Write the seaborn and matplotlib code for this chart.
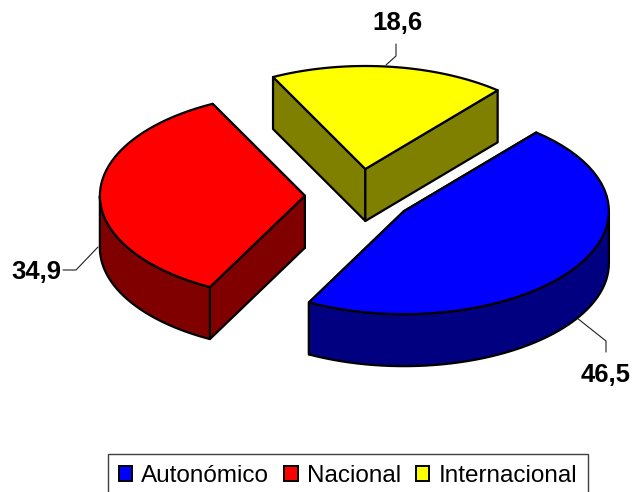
import numpy as np
import matplotlib
matplotlib.use('Agg')
import matplotlib.pyplot as plt
from matplotlib.patches import Polygon, Patch
import seaborn as sns

# valores del grafico
categorias = ['Autonómico', 'Nacional', 'Internacional']
valores = [46.5, 34.9, 18.6]
etiquetas = ['46,5', '34,9', '18,6']
colores = ['#0000FF', '#FF0000', '#FFFF00']
colores_lado = ['#000080', '#800000', '#808000']

sns.set_theme(style='white')
plt.rcParams['font.family'] = ['Liberation Sans', 'DejaVu Sans']

# geometria de la tarta en pixeles
cx, cy = 359, 196
rx, ry = 205, 103
fondo = 52
explode = 0.264
inicio = 49.8
lw = 1.6


def arco(c, a0, a1, n=50):
    t = np.radians(np.linspace(a0, a1, n))
    return np.column_stack([c[0] + rx * np.cos(t), c[1] - ry * np.sin(t)])


def bajar(pts):
    return pts + np.array([0, fondo])


def porcion(ax, a0, a1, color, lado):
    medio = np.radians((a0 + a1) / 2)
    c = np.array([cx + explode * rx * np.cos(medio), cy - explode * ry * np.sin(medio)])
    borde = arco(c, a0, a1)

    # paredes rectas, primero la de atras
    paredes = [np.array([c, borde[0]]), np.array([c, borde[-1]])]
    paredes.sort(key=lambda p: p[:, 1].mean())
    for p in paredes:
        ax.add_patch(Polygon(np.vstack([p, bajar(p)[::-1]]), fc=lado, ec='black', lw=lw, joinstyle='round'))

    # pared curva, solo la parte delantera (180 a 360 grados)
    for k in [0, 360]:
        b0, b1 = max(a0, 180 + k), min(a1, 360 + k)
        if b1 > b0:
            p = arco(c, b0, b1)
            ax.add_patch(Polygon(np.vstack([p, bajar(p)[::-1]]), fc=lado, ec='black', lw=lw, joinstyle='round'))

    ax.add_patch(Polygon(np.vstack([c, borde]), fc=color, ec='black', lw=lw, joinstyle='round'))


fig = plt.figure(figsize=(6.32, 4.92), dpi=100)
ax = fig.add_axes([0, 0, 1, 1])
ax.set_xlim(0, 632)
ax.set_ylim(492, 0)
ax.axis('off')

# Internacional, Nacional y Autonomico en sentido antihorario desde el inicio
a = inicio
for i in [2, 1, 0]:
    paso = valores[i] / sum(valores) * 360
    porcion(ax, a, a + paso, colores[i], colores_lado[i])
    a += paso

# lineas guia y etiquetas
guias = [[(577, 318), (606, 341), (606, 352)],
         [(63, 270), (76, 270), (98, 247)],
         [(396, 44), (396, 56), (386, 65)]]
pos_etiqueta = [(606, 375), (36, 272), (397, 23)]
for i in range(3):
    g = np.array(guias[i])
    ax.plot(g[:, 0], g[:, 1], color='#202020', lw=0.8)
    ax.text(pos_etiqueta[i][0], pos_etiqueta[i][1], etiquetas[i], fontsize=18.5, fontweight='bold',
            color='black', ha='center', va='center')

# leyenda
manejadores = [Patch(fc=colores[i], ec='black', lw=1.4, label=categorias[i]) for i in range(3)]
ley = ax.legend(handles=manejadores, ncol=3, loc='center', bbox_to_anchor=(348 / 632, 1 - 476 / 492),
                fontsize=17.5, frameon=True, fancybox=False, edgecolor='#404040', framealpha=1,
                handlelength=0.55, handleheight=0.55, handletextpad=0.38, columnspacing=0.62,
                borderpad=0.45, borderaxespad=0)
ley.get_frame().set_linewidth(1.0)
for t in ley.get_texts():
    t.set_color('black')

fig.savefig('out.png', dpi=100)
